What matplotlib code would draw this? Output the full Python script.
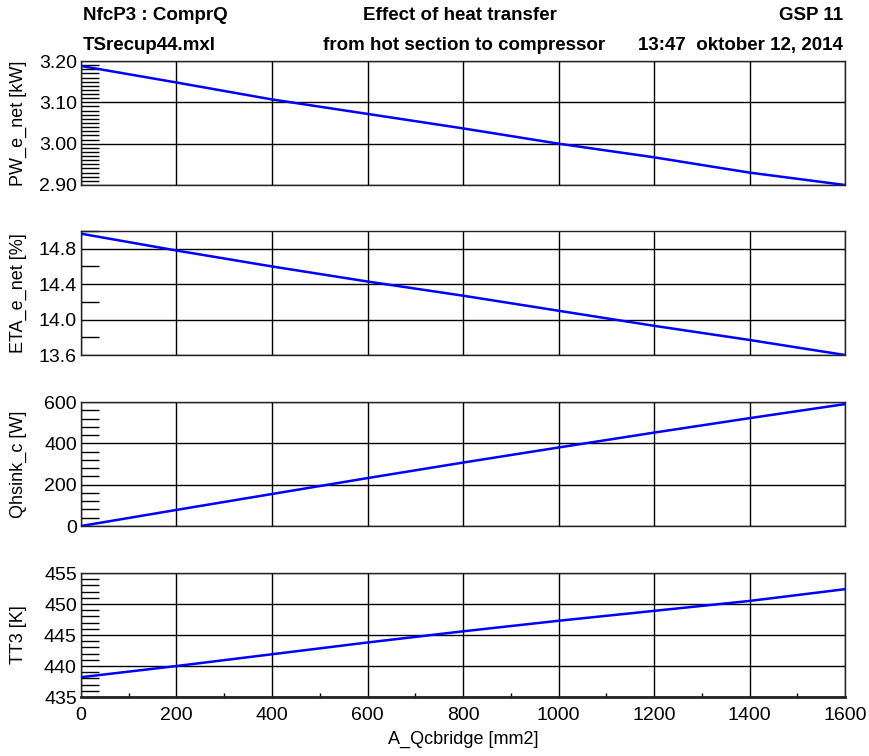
import matplotlib.pyplot as plt
from matplotlib.ticker import MultipleLocator, FormatStrFormatter

plt.rcParams['font.family'] = ['Liberation Sans', 'DejaVu Sans']

# data
a_qcbridge = [0, 200, 400, 600, 800, 1000, 1200, 1400, 1600]
pw_e_net = [3.188, 3.148, 3.107, 3.072, 3.037, 3.000, 2.967, 2.930, 2.900]
eta_e_net = [14.97, 14.78, 14.60, 14.43, 14.27, 14.10, 13.93, 13.77, 13.60]
qhsink_c = [0, 78, 155, 232, 307, 380, 452, 522, 590]
tt3 = [438.2, 440.0, 441.9, 443.8, 445.6, 447.3, 448.9, 450.5, 452.4]

panels = [
    (pw_e_net, 'PW_e_net [kW]', (2.90, 3.20), 0.10, 0.01, '%.2f'),
    (eta_e_net, 'ETA_e_net [%]', (13.6, 15.0), 0.4, 0.2, '%.1f'),
    (qhsink_c, 'Qhsink_c [W]', (0, 600), 200, 40, '%d'),
    (tt3, 'TT3 [K]', (435, 455), 5, 1, '%d'),
]

fig = plt.figure(figsize=(8.69, 7.56), dpi=100)
left, width, height = 0.0932, 0.8792, 0.164
bottoms = [0.7553, 0.5304, 0.3042, 0.0780]

for i, (vals, label, ylim, major, minor, fmt) in enumerate(panels):
    ax = fig.add_axes([left, bottoms[i], width, height])
    ax.plot(a_qcbridge, vals, color='#0000ff', lw=1.8, zorder=3)
    ax.set_xlim(0, 1600)
    ax.set_ylim(*ylim)
    ax.xaxis.set_major_locator(MultipleLocator(200))
    ax.yaxis.set_major_locator(MultipleLocator(major))
    ax.yaxis.set_minor_locator(MultipleLocator(minor))
    ax.yaxis.set_major_formatter(FormatStrFormatter(fmt))
    ax.grid(True, which='major', color='black', lw=1.0)
    ax.tick_params(axis='y', which='major', direction='in', length=0,
                   labelsize=14, pad=3)
    ax.tick_params(axis='y', which='minor', direction='in', length=13,
                   width=1.0, color='black')
    ax.set_ylabel(label, fontsize=13)
    ax.yaxis.set_label_coords(-0.071, 0.5)
    for s in ax.spines.values():
        s.set_color('#222222')
        s.set_linewidth(1.0)
    if i < 3:
        ax.tick_params(axis='x', which='both', length=0, labelbottom=False)
    else:
        ax.xaxis.set_minor_locator(MultipleLocator(100))
        ax.tick_params(axis='x', which='major', direction='in', length=0,
                       labelsize=14, pad=7)
        ax.tick_params(axis='x', which='minor', direction='in', length=3,
                       width=1.0, color='black')
        ax.spines['bottom'].set_linewidth(2.0)
        ax.set_xlabel('A_Qcbridge [mm2]', fontsize=13, labelpad=5)

# header
hdr = dict(fontsize=13.5, fontweight='bold')
fig.text(0.0955, 0.979, 'NfcP3 : ComprQ', ha='left', va='center', **hdr)
fig.text(0.0955, 0.940, 'TSrecup44.mxl', ha='left', va='center', **hdr)
fig.text(0.529, 0.979, 'Effect of heat transfer', ha='center', va='center', **hdr)
fig.text(0.534, 0.940, 'from hot section to compressor', ha='center', va='center', **hdr)
fig.text(0.970, 0.979, 'GSP 11', ha='right', va='center', **hdr)
fig.text(0.970, 0.940, '13:47  oktober 12, 2014', ha='right', va='center', **hdr)

fig.savefig('out.png', dpi=100)
